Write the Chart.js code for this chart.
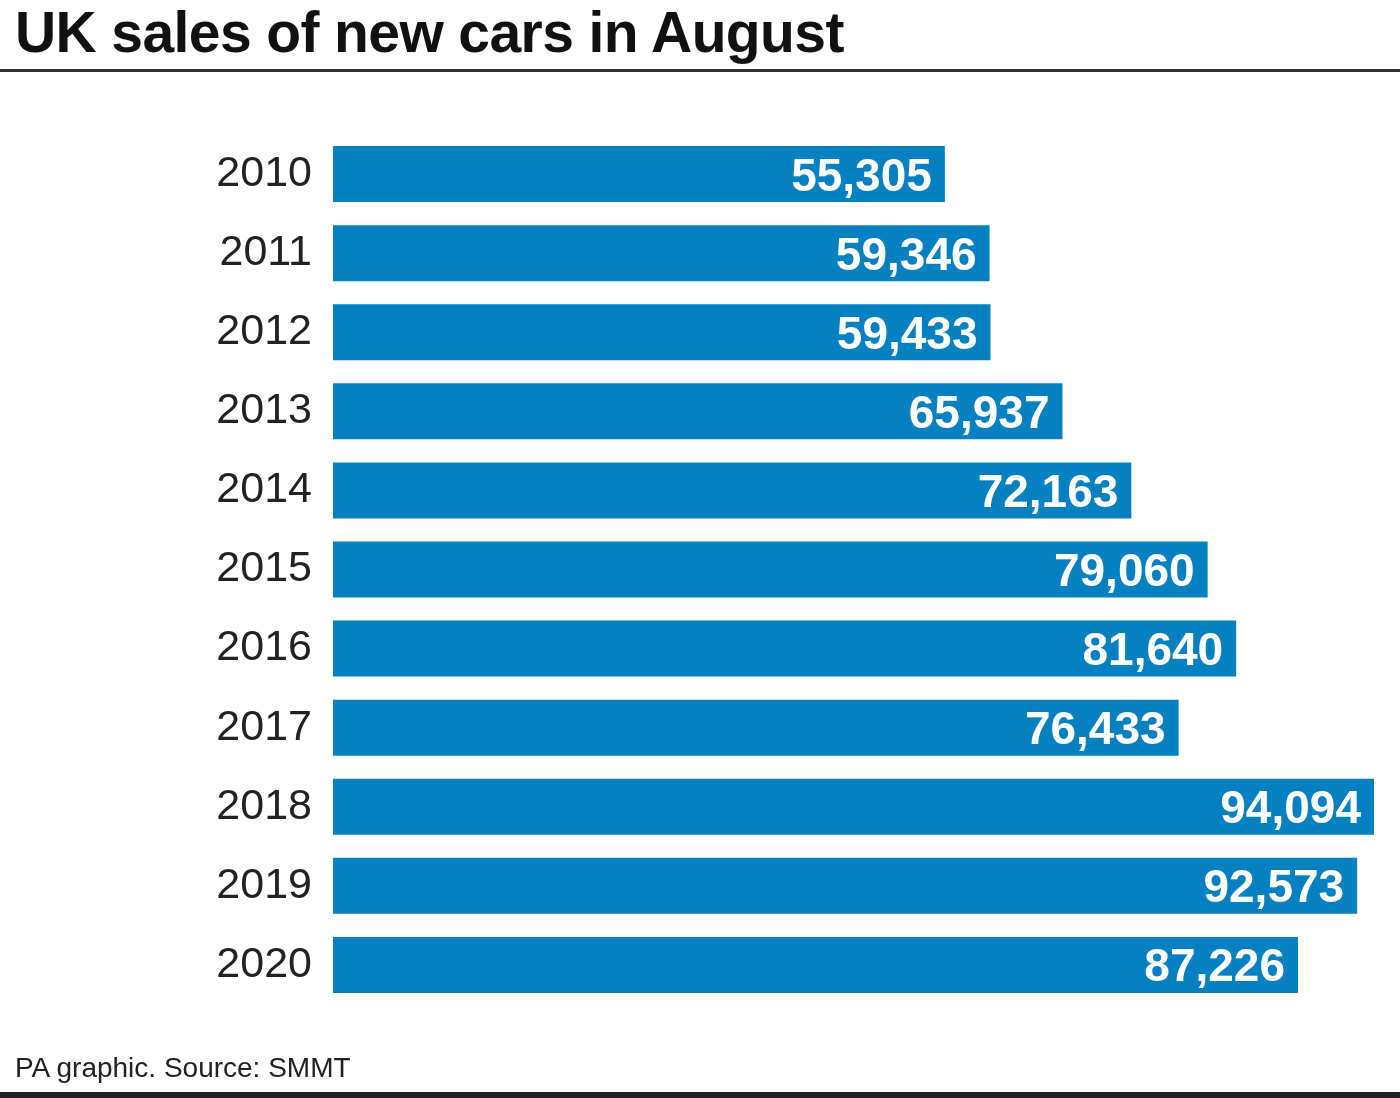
<!DOCTYPE html>
<html>
<head>
<meta charset="utf-8">
<script src="https://cdn.jsdelivr.net/npm/chart.js@4/dist/chart.umd.min.js"></script>
<style>
  html, body { margin: 0; padding: 0; background: #fff; }
  body { width: 1400px; height: 1098px; position: relative; overflow: hidden; }
  #chart { position: absolute; left: 0; top: 0; }
  #title { position: absolute; left: 15px; top: -1px; font-family: "Liberation Sans", Arial, sans-serif; font-weight: bold; font-size: 57px; color: #111; white-space: nowrap; letter-spacing: -0.6px; }
  #rule { position: absolute; left: 0; top: 69px; width: 1400px; height: 3px; background: #333; }
  #footer { position: absolute; left: 15px; top: 1052px; font-family: "Liberation Sans", Arial, sans-serif; font-size: 28px; color: #222; white-space: nowrap; }
  #bottom { position: absolute; left: 0; top: 1092px; width: 1400px; height: 6px; background: #222; }
</style>
</head>
<body>
<canvas id="chart" width="1400" height="1098"></canvas>
<div id="title">UK sales of new cars in August</div>
<div id="rule"></div>
<div id="footer">PA graphic. Source: SMMT</div>
<div id="bottom"></div>
<script>
const years = ["2010", "2011", "2012", "2013", "2014", "2015", "2016", "2017", "2018", "2019", "2020"];
const sales = [55305, 59346, 59433, 65937, 72163, 79060, 81640, 76433, 94094, 92573, 87226];

const valueLabels = {
  id: 'valueLabels',
  afterDatasetsDraw(chart) {
    const ctx = chart.ctx;
    const meta = chart.getDatasetMeta(0);
    ctx.save();
    ctx.fillStyle = '#ffffff';
    ctx.font = 'bold 46px "Liberation Sans", Arial, sans-serif';
    ctx.textAlign = 'right';
    ctx.textBaseline = 'alphabetic';
    meta.data.forEach((bar, i) => {
      const txt = sales[i].toLocaleString('en-GB');
      ctx.fillText(txt, bar.x - 13, bar.y + 16.5);
    });
    ctx.restore();
  }
};

new Chart(document.getElementById('chart'), {
  type: 'bar',
  data: {
    labels: years,
    datasets: [{
      data: sales,
      backgroundColor: '#0580c0',
      borderWidth: 0,
      barPercentage: 0.708,
      categoryPercentage: 1.0
    }]
  },
  options: {
    indexAxis: 'y',
    responsive: false,
    animation: false,
    layout: { padding: { left: 0, right: 16, top: 134.5, bottom: 93.5 } },
    plugins: { legend: { display: false }, tooltip: { enabled: false }, title: { display: false } },
    scales: {
      x: {
        display: false,
        min: 0,
        max: 95000
      },
      y: {
        grid: { display: false, drawTicks: false },
        border: { display: false },
        ticks: {
          padding: 21,
          color: '#222',
          font: { family: '"Liberation Sans", Arial, sans-serif', size: 43 }
        },
        afterFit(scale) { scale.width = 333; }
      }
    }
  },
  plugins: [valueLabels]
});
</script>
</body>
</html>
